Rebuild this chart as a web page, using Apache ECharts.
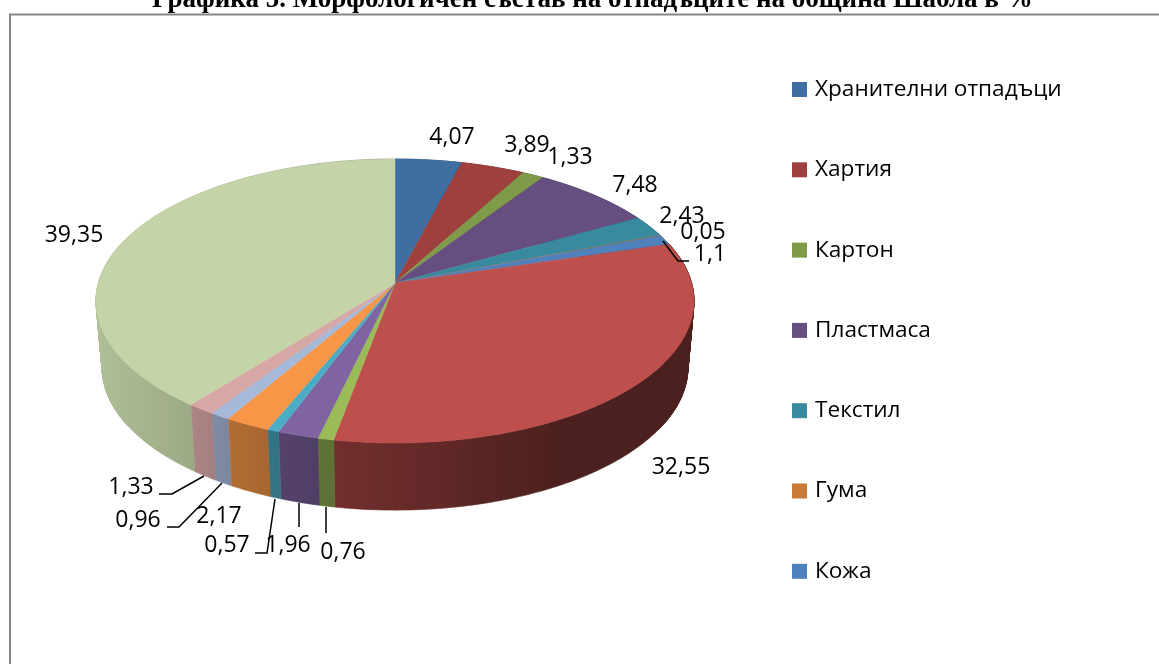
<!DOCTYPE html>
<html><head><meta charset="utf-8">
<style>html,body{margin:0;padding:0;background:#fff;overflow:hidden}#c{width:1159px;height:664px}</style>
<script src="https://cdn.jsdelivr.net/npm/echarts@6/dist/echarts.min.js"></script>
</head><body><div id="c"></div>
<script>
const titleText = 'Графика 5. Морфологичен състав на отпадъците на община Шабла в %';
const legendNames = ['Хранителни отпадъци','Хартия','Картон','Пластмаса','Текстил','Гума','Кожа'];
const sliceValues = [4.07,3.89,1.33,7.48,2.43,0.05,1.1,32.55,0.76,1.96,0.57,2.17,0.96,1.33,39.35];
const sliceColors = ['#3f6ea3','#9e403d','#7f9a48','#664f80','#39899f','#c97b38','#4f81bd','#bd4f4c','#9bbb59','#8064a2','#4bacc6','#f79646','#a7b9d9','#d7a7a5','#c4d4a8'];
// label centres and leader lines (layout only)
const labelCentres = [[452,137],[527,145],[570,157],[635,185],[682,216],[703,232],[710,254],[681,467],[343,552],[288,545],[227,545],[219,516],[138,520],[131,487],[74,235]];
const leaderLines = {
  6:[[663,241],[678,261],[689,261]], 8:[[326,507],[326,533]], 9:[[299,503],[299,527]],
  10:[[275,499],[267,553],[255,553]], 12:[[222,483],[179,527],[167,527]], 13:[[204,476],[172,494],[159,494]]
};
// projection of the disc: apex + perspective factor
const K = 0.1268;
const topDisc = {cx:395, cy:283, a:296.6, b:139.7};
const botDisc = {cx:395, cy:349, a:290.6, b:140.7};
const shadeStops = [[96,.90],[190,.80],[240,.71],[300,.64],[335,.60],[400,.55],[500,.45],[560,.40],[694,.40]];

const total = sliceValues.reduce((s,v)=>s+v,0);
const cum = []; sliceValues.reduce((s,v,i)=>{cum[i]=s;return s+v;},0);
function proj(d,frac){
  const t = frac*2*Math.PI, u = Math.sin(t), v = -Math.cos(t), w = 1-K*v;
  return [d.cx+d.a*u/w, d.cy+d.b*v/w];
}
function arc(d,f0,f1){
  const n = Math.max(2,Math.ceil((f1-f0)*400)), p=[];
  for(let i=0;i<=n;i++) p.push(proj(d,f0+(f1-f0)*i/n));
  return p;
}
function scale(c,s){
  const n=parseInt(c.slice(1),16);
  return 'rgb('+[(n>>16)&255,(n>>8)&255,n&255].map(x=>Math.round(x*s)).join(',')+')';
}
function wallFill(c){
  return {type:'linear',x:96,y:0,x2:694,y2:0,global:true,
    colorStops:shadeStops.map(s=>({offset:(s[0]-96)/598,color:scale(c,s[1])}))};
}
const labelFont = '23px "Open Sans", sans-serif';
function makeSeries(i){
  return {
    type:'custom', name: legendNames[i] || ('#'+(i+1)), coordinateSystem:'none',
    itemStyle:{color:sliceColors[i]}, silent:true, animation:false,
    data:[[sliceValues[i]]],
    renderItem:function(params,api){
      const val = api.value(0), f0 = cum[i]/total, f1 = (cum[i]+val)/total, col = sliceColors[i];
      const apex = [topDisc.cx,topDisc.cy];
      const topArc = arc(topDisc,f0,f1), botArc = arc(botDisc,f0,f1);
      const fill = wallFill(col);
      const kids = [{type:'polygon',z2:1,shape:{points:topArc.concat(botArc.slice().reverse())},
        style:{fill:fill,stroke:fill,lineWidth:.6}}];
      // side strips fill the silhouette where the wall turns away at the disc's left and right ends
      for(let s=0;s<topArc.length-1;s++){
        if(Math.abs(topArc[s][0]-topDisc.cx)>270){
          kids.push({type:'polygon',z2:2,shape:{points:[topArc[s],topArc[s+1],botArc[s+1],botArc[s]]},
            style:{fill:fill,stroke:fill,lineWidth:1}});
        }
      }
      kids.push({type:'polygon',z2:5,shape:{points:[apex].concat(topArc)},
          style:{fill:col,stroke:col,lineWidth:.5}});
      if(leaderLines[i]) kids.push({type:'polyline',z2:8,shape:{points:leaderLines[i]},
        style:{fill:null,stroke:'#000',lineWidth:1.5}});
      kids.push({type:'text',z2:10,style:{text:String(val).replace('.',','),
        x:labelCentres[i][0],y:labelCentres[i][1],align:'center',verticalAlign:'middle',
        font:labelFont,fill:'#000'}});
      return {type:'group',children:kids};
    }
  };
}
const chart = echarts.init(document.getElementById('c'),null,{renderer:'canvas'});
chart.setOption({
  animation:false,
  backgroundColor:'#fff',
  title:{text:titleText,left:152,top:-13,padding:0,
    textStyle:{fontFamily:'"Liberation Serif",serif',fontWeight:'bold',fontSize:27,color:'#000'}},
  legend:{orient:'vertical',left:792,top:78,padding:0,itemWidth:15,itemHeight:15,itemGap:57.3,
    icon:'rect',selectedMode:false,data:legendNames,
    textStyle:{fontFamily:'"Open Sans",sans-serif',fontSize:22.6,color:'#000',padding:[0,0,0,3]}},
  graphic:[{type:'polyline',silent:true,shape:{points:[[10,664],[10,14.5],[1159,14.5]]},
    style:{fill:null,stroke:'#868686',lineWidth:2}}],
  series:sliceValues.map((v,i)=>makeSeries(i))
});
</script></body></html>
